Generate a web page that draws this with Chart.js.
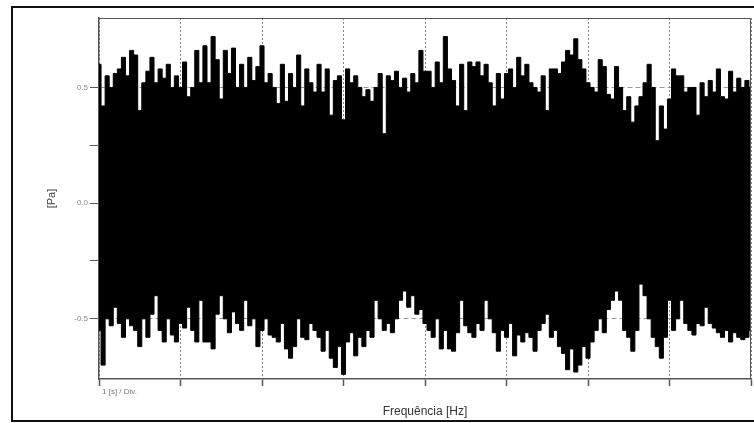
<!DOCTYPE html>
<html>
<head>
<meta charset="utf-8">
<script src="https://cdn.jsdelivr.net/npm/chart.js@4/dist/chart.umd.min.js"></script>
<style>
  body { margin: 0; background: #fff; }
  #wrap { position: relative; width: 754px; height: 423px; overflow: hidden; }
  #frame { position: absolute; left: 11px; top: 6px; width: 800px; height: 416px;
           box-sizing: border-box; border: 2px solid #111; }
  #c { position: absolute; left: 0; top: 0; }
</style>
</head>
<body>
<div id="wrap">
  <div id="frame"></div>
  <canvas id="c" width="754" height="423"></canvas>
</div>
<script>
// peak envelope of the signal, every 0.05 s (0 .. 8 s)
var sampleStep = 0.05;
var upperPeaks = [
  0.60, 0.42, 0.55, 0.50, 0.56, 0.58, 0.63, 0.55, 0.66, 0.64, 0.40, 0.52, 0.57, 0.63, 0.52, 0.58, 0.54, 0.60, 0.50, 0.55, 0.50, 0.61, 0.46, 0.50, 0.66, 0.52, 0.68,
  0.52, 0.72, 0.62, 0.45, 0.66, 0.56, 0.67, 0.50, 0.60, 0.50, 0.63, 0.53, 0.59, 0.68, 0.52, 0.56, 0.50, 0.43, 0.60, 0.44, 0.56, 0.50, 0.64, 0.42, 0.58, 0.52, 0.48,
  0.60, 0.48, 0.58, 0.38, 0.53, 0.55, 0.36, 0.58, 0.52, 0.55, 0.50, 0.46, 0.49, 0.44, 0.50, 0.56, 0.30, 0.55, 0.53, 0.57, 0.50, 0.54, 0.48, 0.56, 0.52, 0.66, 0.57,
  0.57, 0.50, 0.61, 0.52, 0.72, 0.58, 0.53, 0.42, 0.60, 0.40, 0.61, 0.59, 0.61, 0.55, 0.60, 0.52, 0.42, 0.56, 0.45, 0.56, 0.58, 0.50, 0.63, 0.55, 0.60, 0.52,
  0.50, 0.48, 0.55, 0.40, 0.58, 0.58, 0.56, 0.61, 0.66, 0.64, 0.71, 0.62, 0.58, 0.52, 0.50, 0.48, 0.62, 0.59, 0.47, 0.45, 0.59, 0.50, 0.40, 0.46, 0.35, 0.42, 0.46,
  0.52, 0.60, 0.50, 0.27, 0.42, 0.32, 0.45, 0.58, 0.55, 0.55, 0.48, 0.50, 0.50, 0.38, 0.52, 0.46, 0.53, 0.48, 0.58, 0.46, 0.45, 0.57, 0.48, 0.54, 0.50, 0.53, 0.50
];
var lowerPeaks = [
  -0.55, -0.70, -0.50, -0.53, -0.45, -0.52, -0.58, -0.50, -0.53, -0.55, -0.62, -0.50, -0.58, -0.48, -0.40, -0.55, -0.60, -0.50, -0.57, -0.60, -0.52, -0.54, -0.45, -0.55, -0.60, -0.42, -0.60,
  -0.60, -0.63, -0.48, -0.40, -0.50, -0.56, -0.47, -0.52, -0.55, -0.42, -0.53, -0.50, -0.62, -0.55, -0.50, -0.57, -0.58, -0.60, -0.52, -0.63, -0.67, -0.62, -0.50, -0.58, -0.59, -0.52, -0.55,
  -0.58, -0.64, -0.55, -0.67, -0.71, -0.62, -0.74, -0.60, -0.56, -0.66, -0.58, -0.62, -0.55, -0.58, -0.42, -0.50, -0.55, -0.52, -0.56, -0.50, -0.42, -0.38, -0.45, -0.40, -0.48, -0.46, -0.52,
  -0.55, -0.58, -0.50, -0.63, -0.55, -0.63, -0.64, -0.56, -0.42, -0.53, -0.56, -0.58, -0.52, -0.55, -0.42, -0.50, -0.56, -0.64, -0.55, -0.58, -0.52, -0.66, -0.57, -0.60, -0.56, -0.58,
  -0.64, -0.55, -0.52, -0.48, -0.58, -0.55, -0.62, -0.65, -0.72, -0.63, -0.73, -0.70, -0.62, -0.67, -0.60, -0.55, -0.50, -0.56, -0.46, -0.42, -0.38, -0.42, -0.55, -0.58, -0.64, -0.55, -0.35,
  -0.40, -0.50, -0.58, -0.62, -0.67, -0.58, -0.42, -0.55, -0.50, -0.42, -0.52, -0.55, -0.57, -0.52, -0.53, -0.45, -0.52, -0.54, -0.56, -0.58, -0.55, -0.60, -0.56, -0.58, -0.59, -0.58, -0.55
];
var yTicks = [-0.5, -0.25, 0, 0.25, 0.5];
var yLabelled = [-0.5, 0, 0.5];

var upperPts = upperPeaks.map(function (v, i) { return { x: i * sampleStep, y: v }; });
var lowerPts = lowerPeaks.map(function (v, i) { return { x: i * sampleStep, y: v }; });

var extras = {
  id: 'extras',
  afterDatasetsDraw: function (chart) {
    var a = chart.chartArea, ctx = chart.ctx;
    ctx.save();
    ctx.strokeStyle = '#555';
    ctx.lineWidth = 1;
    ctx.beginPath();
    ctx.moveTo(a.left, a.top + 0.5);
    ctx.lineTo(a.right - 0.5, a.top + 0.5);
    ctx.lineTo(a.right - 0.5, a.bottom);
    ctx.stroke();
    ctx.restore();
  },
  afterDraw: function (chart) {
    var ctx = chart.ctx;
    ctx.save();
    ctx.fillStyle = '#777';
    ctx.font = '8px "Liberation Sans", Arial, sans-serif';
    ctx.textBaseline = 'middle';
    ctx.fillText('1 [s] / Div.', 102, 392);
    ctx.restore();
  }
};

new Chart(document.getElementById('c'), {
  type: 'line',
  data: {
    datasets: [
      { data: upperPts, borderColor: '#000', backgroundColor: '#000', borderWidth: 1, fill: '+1', stepped: 'middle' },
      { data: lowerPts, borderColor: '#000', backgroundColor: '#000', borderWidth: 1, fill: false, stepped: 'middle' }
    ]
  },
  options: {
    responsive: false,
    animation: false,
    layout: { padding: { left: 0, top: 18, right: 2, bottom: 0 } },
    elements: { point: { radius: 0 }, line: { tension: 0 } },
    plugins: { legend: { display: false }, tooltip: { enabled: false } },
    scales: {
      x: {
        type: 'linear', min: 0, max: 8,
        afterFit: function (s) { s.height = 44; },
        ticks: { stepSize: 1, callback: function () { return ''; } },
        grid: { color: '#888', lineWidth: 1, tickLength: 7, tickColor: '#555', tickWidth: 1.5 },
        border: { color: '#555', width: 1.5, dash: [2, 2] },
        title: { display: true, text: 'Frequência [Hz]', color: '#333', padding: { top: 10 },
                 font: { family: '"Liberation Sans", Arial, sans-serif', size: 12 } }
      },
      y: {
        min: -0.76, max: 0.8,
        afterFit: function (s) { s.width = 99; },
        afterBuildTicks: function (s) { s.ticks = yTicks.map(function (v) { return { value: v }; }); },
        ticks: {
          padding: 2, color: '#888',
          font: { family: '"Liberation Sans", Arial, sans-serif', size: 8 },
          callback: function (v) { return yLabelled.indexOf(v) >= 0 ? v.toFixed(1) : ''; }
        },
        grid: {
          color: function (c) { return c.tick && Math.abs(c.tick.value) === 0.25 ? 'transparent' : '#999'; },
          lineWidth: 1, tickLength: 9, tickColor: '#555', tickWidth: 1
        },
        border: { color: '#555', width: 1.5, dash: [5, 3] },
        title: { display: true, text: '[Pa]', color: '#444', padding: { top: 45 },
                 font: { family: '"Liberation Sans", Arial, sans-serif', size: 11 } }
      }
    }
  },
  plugins: [extras]
});
</script>
</body>
</html>
